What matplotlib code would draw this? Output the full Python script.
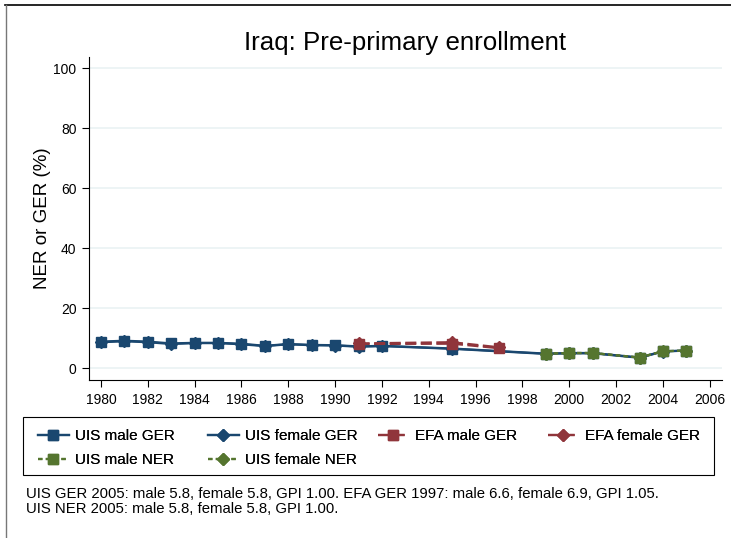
import numpy as np
import matplotlib.pyplot as plt
from matplotlib.lines import Line2D
from matplotlib.patches import Rectangle

plt.rcParams['font.family'] = ['Liberation Sans', 'DejaVu Sans']

navy = '#1a476f'
maroon = '#90353b'
green = '#55752f'

# UIS gross enrollment
uis_years = [1980, 1981, 1982, 1983, 1984, 1985, 1986, 1987, 1988, 1989, 1990,
             1991, 1992, 1995, 1999, 2000, 2001, 2003, 2004, 2005]
uis_male_ger = [8.8, 9.1, 8.8, 8.2, 8.4, 8.4, 8.1, 7.4, 8.0, 7.7, 7.6,
                7.2, 7.4, 6.5, 4.8, 5.0, 5.0, 3.5, 5.6, 5.8]
uis_female_ger = [8.6, 8.9, 8.6, 8.0, 8.3, 8.3, 7.9, 7.3, 7.9, 7.6, 7.5,
                  7.1, 7.3, 6.4, 4.7, 4.9, 4.9, 3.4, 5.5, 5.8]

# EFA gross enrollment
efa_years = [1991, 1995, 1997]
efa_male_ger = [8.0, 8.1, 6.6]
efa_female_ger = [8.2, 8.6, 6.9]

# UIS net enrollment
ner_years = [1999, 2000, 2001, 2003, 2004, 2005]
uis_male_ner = [4.8, 5.0, 5.0, 3.5, 5.6, 5.8]
uis_female_ner = [4.8, 5.0, 5.0, 3.5, 5.6, 5.8]

title = 'Iraq: Pre-primary enrollment'
note = ('UIS GER 2005: male 5.8, female 5.8, GPI 1.00. EFA GER 1997: male 6.6, female 6.9, GPI 1.05.\n'
        'UIS NER 2005: male 5.8, female 5.8, GPI 1.00.')

W, H = 731, 538
fig = plt.figure(figsize=(W / 100, H / 100), dpi=100)
ax = fig.add_axes([89 / W, 1 - 380 / H, (722 - 89) / W, (380 - 57) / H])

lw = 1.6
ms = 6.5
dash = (0, (5, 2))
dot = (0, (2, 1.5))

l1, = ax.plot(uis_years, uis_male_ger, color=navy, lw=lw, marker='s', ms=ms, label='UIS male GER', zorder=3)
l2, = ax.plot(uis_years, uis_female_ger, color=navy, lw=lw, marker='D', ms=ms, label='UIS female GER', zorder=3)
l3, = ax.plot(efa_years, efa_male_ger, color=maroon, lw=lw, ls=dash, marker='s', ms=ms, label='EFA male GER', zorder=4)
l4, = ax.plot(efa_years, efa_female_ger, color=maroon, lw=lw, ls=dash, marker='D', ms=ms, label='EFA female GER', zorder=4)
l5, = ax.plot(ner_years, uis_male_ner, color=green, lw=lw, ls=dot, marker='s', ms=ms, label='UIS male NER', zorder=5)
l6, = ax.plot(ner_years, uis_female_ner, color=green, lw=lw, ls=dot, marker='D', ms=ms, label='UIS female NER', zorder=5)

ax.set_xlim(1979.49, 2006.52)
ax.set_ylim(-4, 103.7)
ax.set_xticks(np.arange(1980, 2007, 2))
ax.set_yticks(np.arange(0, 101, 20))
ax.yaxis.grid(True, color='#eaf2f3', lw=1.2)
ax.set_axisbelow(True)
for s in ['top', 'right']:
    ax.spines[s].set_visible(False)
ax.tick_params(labelsize=10, length=5, width=0.8, colors='black', pad=4)
ax.set_ylabel('NER or GER (%)', fontsize=13.5)
ax.yaxis.set_label_coords(-0.06, 0.5)
ax.set_title(title, fontsize=18.6, pad=5)

# legend: frame plus one entry per slot
fig.add_artist(Rectangle((23 / W, 1 - 475 / H), (714 - 23) / W, (475 - 417) / H,
                         transform=fig.transFigure, fill=False, edgecolor='black', lw=0.8))
entries = [(l1, 38, 436), (l2, 208, 436), (l3, 378, 436), (l4, 548, 436),
           (l5, 38, 460), (l6, 208, 460)]
for h, x, y in entries:
    lg = fig.legend([h], [h.get_label()], loc='center left', bbox_to_anchor=(x / W, 1 - y / H),
                    frameon=False, fontsize=11, handlelength=2.0, handletextpad=0.45,
                    borderpad=0, borderaxespad=0)
    fig.add_artist(lg)

fig.text(26 / W, 1 - 487 / H, note, fontsize=10.7, va='top', ha='left', linespacing=1.05)

# outer border of the graph region
fig.add_artist(Line2D([5 / W, 1], [1 - 5 / H, 1 - 5 / H], color='black', lw=1.2))
fig.add_artist(Line2D([6 / W, 6 / W], [0, 1 - 5 / H], color='#777777', lw=1))

fig.savefig('out.png', dpi=100)
